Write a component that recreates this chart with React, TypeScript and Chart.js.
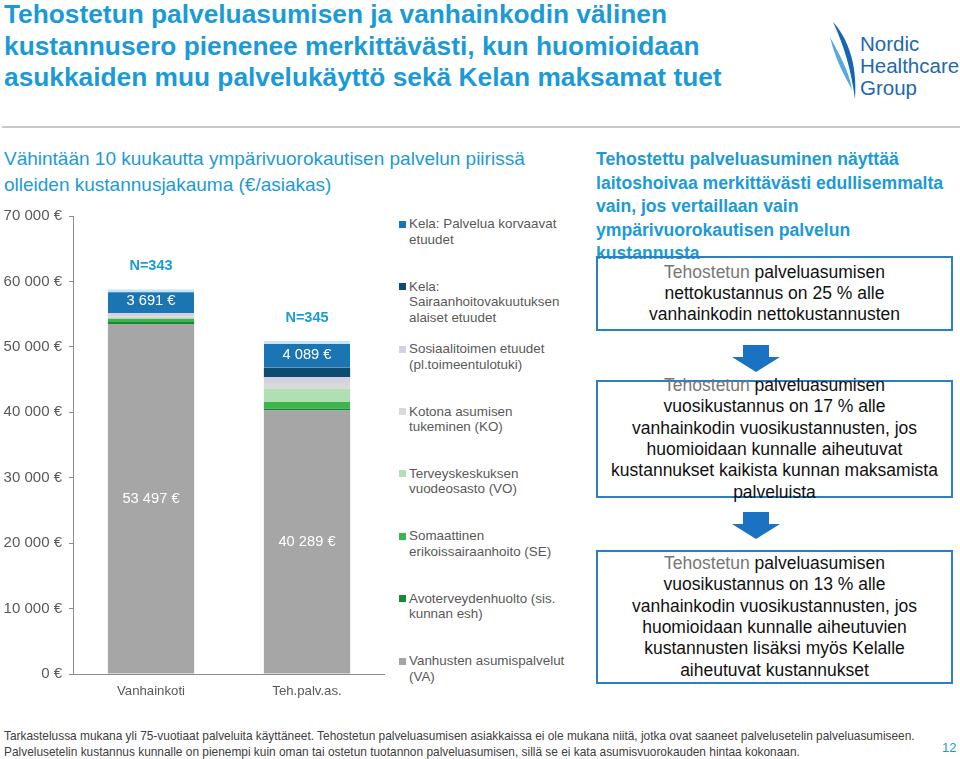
import React, { useEffect, useRef } from "react";
import { Chart, registerables } from "chart.js";

Chart.register(...registerables);

// ---- Data ----
const categories = ["Vanhainkoti", "Teh.palv.as."];
const nLabels = ["N=343", "N=345"];
const seriesNames = [
  "Vanhusten asumispalvelut (VA)",
  "Avoterveydenhuolto (sis. kunnan esh)",
  "Somaattinen erikoissairaanhoito (SE)",
  "Terveyskeskuksen vuodeosasto (VO)",
  "Kotona asumisen tukeminen (KO)",
  "Sosiaalitoimen etuudet (pl.toimeentulotuki)",
  "Kela: Sairaanhoitovakuutuksen alaiset etuudet",
  "Kela: Palvelua korvaavat etuudet",
];
const vaValues = [53497, 40289];
const avoValues = [300, 300];
const seValues = [500, 1000];
const voValues = [0, 2000];
const koValues = [400, 900];
const sosValues = [400, 900];
const kelaSValues = [0, 1400];
const kelaPValues = [3691, 4089];
const seriesColors = ["#a6a6a6", "#178a38", "#3db54b", "#afdfb3", "#d9d9d9", "#d3d1e2", "#0d4c70", "#1b75b3"];
const legendLines = [
  ["Kela: Palvelua korvaavat", "etuudet"],
  ["Kela:", "Sairaanhoitovakuutuksen", "alaiset etuudet"],
  ["Sosiaalitoimen etuudet", "(pl.toimeentulotuki)"],
  ["Kotona asumisen", "tukeminen (KO)"],
  ["Terveyskeskuksen", "vuodeosasto (VO)"],
  ["Somaattinen", "erikoissairaanhoito (SE)"],
  ["Avoterveydenhuolto (sis.", "kunnan esh)"],
  ["Vanhusten asumispalvelut", "(VA)"],
];
const yMin = 0;
const yMax = 70000;
const yStep = 10000;

const titleLines = [
  "Tehostetun palveluasumisen ja vanhainkodin välinen",
  "kustannusero pienenee merkittävästi, kun huomioidaan",
  "asukkaiden muu palvelukäyttö sekä Kelan maksamat tuet",
];
const subtitleLines = [
  "Vähintään 10 kuukautta ympärivuorokautisen palvelun piirissä",
  "olleiden kustannusjakauma (€/asiakas)",
];
const headingLines = [
  "Tehostettu palveluasuminen näyttää",
  "laitoshoivaa merkittävästi edullisemmalta",
  "vain, jos vertaillaan vain",
  "ympärivuorokautisen palvelun",
  "kustannusta",
];
const boxTexts = [
  ["nettokustannus on 25 % alle", "vanhainkodin nettokustannusten"],
  [
    "vuosikustannus on 17 % alle",
    "vanhainkodin vuosikustannusten, jos",
    "huomioidaan kunnalle aiheutuvat",
    "kustannukset kaikista kunnan maksamista",
    "palveluista",
  ],
  [
    "vuosikustannus on 13 % alle",
    "vanhainkodin vuosikustannusten, jos",
    "huomioidaan kunnalle aiheutuvien",
    "kustannusten lisäksi myös Kelalle",
    "aiheutuvat kustannukset",
  ],
];
const footerLines = [
  "Tarkastelussa mukana yli 75-vuotiaat palveluita käyttäneet. Tehostetun palveluasumisen asiakkaissa ei ole mukana niitä, jotka ovat saaneet palvelusetelin palveluasumiseen.",
  "Palvelusetelin kustannus kunnalle on pienempi kuin oman tai ostetun tuotannon palveluasumisen, sillä se ei kata asumisvuorokauden hintaa kokonaan.",
];

const FONT = "'Liberation Sans', Arial, Helvetica, sans-serif";
const BLUE = "#1b9ad8";

const fmt = (v: number) => String(v).replace(/\B(?=(\d{3})+(?!\d))/g, " ") + " €";

function BarChart() {
  const ref = useRef<HTMLCanvasElement | null>(null);
  useEffect(() => {
    const series = [vaValues, avoValues, seValues, voValues, koValues, sosValues, kelaSValues, kelaPValues];
    const labelPlugin = {
      id: "labels",
      afterDatasetsDraw(chart: any) {
        const ctx = chart.ctx;
        ctx.save();
        ctx.textAlign = "center";
        ctx.textBaseline = "middle";
        ctx.font = `14.7px ${FONT}`;
        ctx.fillStyle = "#ffffff";
        [0, series.length - 1].forEach((di) => {
          const meta = chart.getDatasetMeta(di);
          meta.data.forEach((el: any, i: number) => {
            const v = series[di][i];
            ctx.fillText(fmt(v), el.x, (el.y + el.base) / 2);
          });
        });
        const top = chart.getDatasetMeta(series.length - 1);
        ctx.font = `bold 14.5px ${FONT}`;
        ctx.fillStyle = BLUE;
        top.data.forEach((el: any, i: number) => {
          ctx.fillText(nLabels[i], el.x, el.y - 23);
        });
        ctx.restore();
      },
    };
    const chart = new Chart(ref.current as HTMLCanvasElement, {
      type: "bar",
      data: {
        labels: categories,
        datasets: series.map((d, i) => ({
          label: seriesNames[i],
          data: d,
          backgroundColor: seriesColors[i],
          borderWidth: i === series.length - 1 ? { top: 3, left: 0, right: 0, bottom: 0 } : 0,
          borderColor: "#c4e6f6",
          borderSkipped: false,
          categoryPercentage: 1,
          barPercentage: 0.553,
        })),
      },
      options: {
        responsive: false,
        animation: false,
        layout: { padding: { top: 14, left: 0, right: 0, bottom: 0 } },
        plugins: { legend: { display: false }, tooltip: { enabled: false } },
        scales: {
          x: {
            stacked: true,
            afterFit: (s: any) => {
              s.height = 26;
            },
            grid: { display: true, drawOnChartArea: false, drawTicks: false },
            border: { display: true, color: "#8c8c8c", width: 1 },
            ticks: { padding: 9, color: "#595959", font: { family: FONT, size: 13.2 } },
          },
          y: {
            stacked: true,
            min: yMin,
            max: yMax,
            afterFit: (s: any) => {
              s.width = 73;
            },
            grid: { display: true, drawOnChartArea: false, drawTicks: true, tickLength: 4, color: "#8c8c8c" },
            border: { display: true, color: "#8c8c8c", width: 1 },
            ticks: {
              stepSize: yStep,
              padding: 7,
              color: "#595959",
              font: { family: FONT, size: 15 },
              callback: (v: any) => fmt(Number(v)),
            },
          },
        },
      },
      plugins: [labelPlugin],
    });
    return () => chart.destroy();
  }, []);
  return <canvas ref={ref} width={385} height={500} style={{ position: "absolute", left: 0, top: 200, width: 385, height: 500 }} />;
}

function Arrow({ top }: { top: number }) {
  return (
    <svg style={{ position: "absolute", left: 730, top, overflow: "visible" }} width={52} height={28}>
      <polygon points="13,0 39,0 39,12 50,12 26,27 2,12 13,12" fill="#1b72c2" />
    </svg>
  );
}

function Box({ top, height, lines }: { top: number; height: number; lines: string[] }) {
  return (
    <div
      style={{
        position: "absolute",
        left: 596,
        top,
        width: 357,
        height,
        boxSizing: "border-box",
        border: "2px solid #2a80c2",
        display: "flex",
        flexDirection: "column",
        alignItems: "center",
        justifyContent: "center",
        overflow: "visible",
        fontSize: 17.5,
        lineHeight: "21.3px",
        color: "#111",
        textAlign: "center",
        whiteSpace: "nowrap",
      }}
    >
      <div>
        <span style={{ color: "#777" }}>Tehostetun</span> palveluasumisen
      </div>
      {lines.map((l, i) => (
        <div key={i}>{l}</div>
      ))}
    </div>
  );
}

export default function App() {
  return (
    <div
      style={{
        position: "absolute",
        left: 0,
        top: 0,
        width: 960,
        height: 759,
        overflow: "hidden",
        background: "#fff",
        fontFamily: FONT,
      }}
    >
      {/* Title */}
      <div style={{ position: "absolute", left: 4, top: -1, fontSize: 26.3, fontWeight: "bold", lineHeight: "31.5px", color: BLUE, whiteSpace: "nowrap" }}>
        {titleLines.map((l, i) => (
          <div key={i}>{l}</div>
        ))}
      </div>
      {/* Logo */}
      <svg style={{ position: "absolute", left: 0, top: 0 }} width={960} height={110}>
        <path d="M833,22 C846,36 858,62 855,99 C851,70 845,48 833,22 Z" fill="#1766b2" />
        <path d="M830,37 C839,54 849,70 852,90 C845,76 836,62 830,37 Z" fill="#5ba8e0" />
        <text x={860} y={51} fontSize={20.5} fill="#2168b0" fontFamily={FONT}>Nordic</text>
        <text x={860} y={73} fontSize={20.5} fill="#2168b0" fontFamily={FONT}>Healthcare</text>
        <text x={860} y={95} fontSize={20.5} fill="#2168b0" fontFamily={FONT}>Group</text>
      </svg>
      {/* separator */}
      <div style={{ position: "absolute", left: 2, top: 126, width: 958, height: 2, background: "#c8c8c8" }} />
      {/* Subtitle */}
      <div style={{ position: "absolute", left: 4, top: 146, fontSize: 19, lineHeight: "26px", color: BLUE, whiteSpace: "nowrap" }}>
        {subtitleLines.map((l, i) => (
          <div key={i}>{l}</div>
        ))}
      </div>
      {/* Chart */}
      <BarChart />
      {/* Legend */}
      {legendLines.map((lines, i) => (
        <div key={i} style={{ position: "absolute", left: 399, top: 224 + i * 62.43 - 7.75 }}>
          <div style={{ position: "absolute", left: 0, top: 4.5, width: 7, height: 7, background: seriesColors[seriesColors.length - 1 - i] }} />
          <div style={{ position: "absolute", left: 10, top: 0, fontSize: 13.4, lineHeight: "15.5px", color: "#595959", whiteSpace: "nowrap" }}>
            {lines.map((l, j) => (
              <div key={j}>{l}</div>
            ))}
          </div>
        </div>
      ))}
      {/* Right heading */}
      <div style={{ position: "absolute", left: 596, top: 148, fontSize: 17.6, fontWeight: "bold", lineHeight: "23.5px", color: BLUE, whiteSpace: "nowrap" }}>
        {headingLines.map((l, i) => (
          <div key={i}>{l}</div>
        ))}
      </div>
      <Box top={256} height={75} lines={boxTexts[0]} />
      <Arrow top={345} />
      <Box top={380} height={118} lines={boxTexts[1]} />
      <Arrow top={512} />
      <Box top={550} height={134} lines={boxTexts[2]} />
      {/* Footer */}
      <div style={{ position: "absolute", left: 4, top: 728, fontSize: 11.9, lineHeight: "16px", color: "#404040", whiteSpace: "nowrap" }}>
        {footerLines.map((l, i) => (
          <div key={i}>{l}</div>
        ))}
      </div>
      <div style={{ position: "absolute", left: 942, top: 740, fontSize: 13, color: BLUE }}>12</div>
    </div>
  );
}
